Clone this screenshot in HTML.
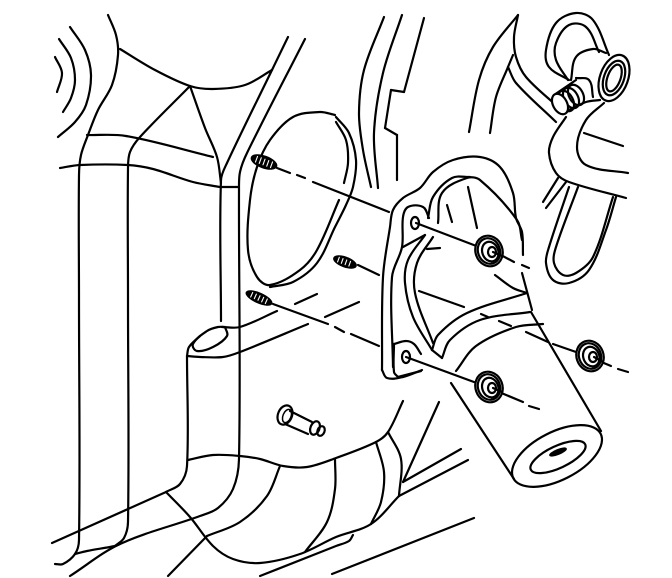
<!DOCTYPE html>
<html><head><meta charset="utf-8"><style>html,body{margin:0;padding:0;background:#fff}svg{display:block}
polyline,path,ellipse,line{fill:none;stroke:#000;stroke-width:2.2;stroke-linecap:round;stroke-linejoin:round}
.s{stroke-width:1.5}.k{fill:#000;stroke-width:1}.w{fill:#fff}.t{stroke:#fff;stroke-width:1.1}</style></head><body>
<svg id="d" width="672" height="578" viewBox="0 0 672 578" xmlns="http://www.w3.org/2000/svg">
<rect width="672" height="578" fill="#fff"/>
<polyline points="108,15 116,35 118,55 112,85 98,110 88,135 81,155 79,175 79,300 79,540 75,554 63,564 55,564"/>
<polyline points="70,27 85,50 91,75 86,105 75,122 58,137"/>
<polyline points="59,39 71,58 75,80 71,98 63,112"/>
<polyline points="55,57 62,73 57,92"/>
<polyline points="120,49 155,70 190,86 213,89 245,85 272,70"/>
<polyline points="190,86 140,137 130,152 128,168 128,300 128,522 124,538 115,546"/>
<polyline points="190,86 205,128 217,157 221,183"/>
<polyline points="87,135 126,136 213,157"/>
<polyline points="60,168 80,165 128,165 153,169 193,182 220,187"/>
<polyline points="220,187 238,187"/>
<polyline points="288,37 272,70 227,163 221,180 221,321"/>
<polyline points="305,39 247,153 240,172 239,190 239,459 233,489 218,508 200,516 120,544 70,576"/>
<polyline points="75,554 87,551 115,546 120,544"/>
<polyline points="222,327 240,327 277,311"/>
<polyline points="225,327 227,336 213,347 197,351 193,344 207,331 218,327 225,327"/>
<polyline points="200,336 189,347 187,356"/>
<polyline points="187,356 200,357 223,357 240,352 308,324"/>
<polyline points="187,356 187,466 180,484 166,492"/>
<polyline points="166,492 52,543"/>
<polyline points="188,460 213,455 240,456 260,459 283,466 307,467 336,458 376,442 388,432 403,401"/>
<polyline points="280,466 267,496 240,522 207,536"/>
<polyline points="207,536 168,576"/>
<polyline points="166,492 190,517 213,546 233,559 260,563 300,554 336,537 371,524 399,496"/>
<polyline points="335,459 335,489 327,522 305,552"/>
<polyline points="376,442 384,472 381,502 371,524"/>
<polyline points="388,432 401,459 399,496"/>
<polyline points="403,482 439,402"/>
<polyline points="403,482 461,449"/>
<polyline points="399,496 468,460"/>
<polyline points="260,576 336,546 349,541 353,535"/>
<polyline points="332,574 474,518"/>
<polyline points="335,115 320,112 293,117 270,140 257,167 250,200 248,250 257,277 270,285 300,270 317,250 339,200"/>
<polyline points="270,287 293,282 317,263 335,227 346,205 353,187 356,160 349,133 336,117"/>
<polyline points="336,122 346,140 348,163 344,183"/>
<polyline points="384,17 364,70 359,113 363,150 371,187"/>
<polyline points="402,15 383,73 374,133 378,188"/>
<polyline points="424,18 404,92"/><polyline points="404,92 391,90"/><polyline points="391,90 385,128"/><polyline points="385,128 397,135"/><polyline points="397,135 397,180"/>
<polyline points="518,15 493,47 479,80 469,132"/>
<polyline points="518,15 514,37 516,57 526,77 558,107"/>
<polyline points="513,55 508,67 496,97 490,133"/>
<polyline points="508,67 516,83 556,122"/>
<polyline points="566,117 553,137 549,153 556,173 569,182 626,198"/>
<polyline points="604,103 586,120 577,147 586,165 628,173"/>
<polyline points="584,133 623,146"/>
<polyline points="609,55 593,20 576,13 556,23 546,50 549,67 569,80"/>
<polyline points="599,52 586,27 569,25 556,43 556,60 568,80"/>
<polyline points="571,80 576,57 593,49 606,53"/>
<polyline points="576,78 589,80 593,97"/>
<polyline points="554,95 576,80"/>
<polyline points="563,113 586,102 600,100"/>
<ellipse class="w" cx="614" cy="78" rx="14" ry="24" transform="rotate(20 614 78)"/>
<ellipse cx="614" cy="78" rx="10" ry="18" transform="rotate(20 614 78)"/>
<ellipse cx="614" cy="78" rx="6.5" ry="14" transform="rotate(20 614 78)"/>
<ellipse cx="576" cy="95" rx="7" ry="11" transform="rotate(-28 576 95)"/>
<ellipse cx="571" cy="98" rx="7" ry="11" transform="rotate(-28 571 98)"/>
<ellipse cx="566" cy="101" rx="7" ry="11" transform="rotate(-28 566 101)"/>
<ellipse class="w" cx="560" cy="104" rx="7" ry="11" transform="rotate(-28 560 104)"/>
<polyline points="558,178 543,202"/>
<polyline points="566,182 546,208"/>
<polyline points="569,187 549,247 546,263 553,280 569,283 589,270 606,230 616,197"/>
<polyline points="578,187 556,247 554,263 563,275 576,273 593,257 613,197"/>
<polyline points="382,370 383,277 390,227 393,210 403,198 420,188 433,172 453,160 480,157 500,167 513,193 516,218 522,232 523,255"/>
<polyline points="382,370 387,378 403,377 422,370"/>
<polyline points="393,367 392,277 402,247 403,217 408,207 423,207 429,218"/>
<polyline points="438,223 442,193 467,178 480,180 517,220 522,240"/>
<polyline points="428,218 433,197 452,178 470,177"/>
<polyline points="447,205 452,222"/>
<polyline points="468,187 477,228"/>
<polyline points="403,247 425,235"/>
<polyline points="425,235 408,260 405,283 413,317 432,350"/>
<polyline points="433,237 417,263 415,293 433,343"/>
<polyline points="427,249 440,248"/>
<polyline points="419,291 464,307"/>
<polyline points="495,275 513,288 527,293"/>
<polyline points="522,273 532,310"/>
<polyline points="432,350 438,335 467,313 527,293"/>
<polyline points="432,350 442,358"/>
<polyline points="442,358 450,340 480,320 530,312"/>
<polyline points="456,371 476,346 516,327 543,324"/>
<polyline points="394,344 406,341 414,344 421,354"/>
<polyline points="394,344 394,372 398,377"/>
<polyline points="398,377 421,371"/>
<polyline points="531,312 601,431"/>
<polyline points="451,383 514,479"/>
<ellipse cx="557" cy="456" rx="49" ry="24" transform="rotate(-27 557 456)"/>
<ellipse cx="558" cy="457" rx="30" ry="11" transform="rotate(-25 558 457)"/>
<ellipse class="k" cx="558" cy="452" rx="9" ry="2.5" transform="rotate(-22 558 452)"/>
<ellipse cx="415" cy="223" rx="4" ry="6" stroke-width="2.4"/>
<ellipse cx="406" cy="357" rx="4" ry="6" stroke-width="2.4"/>
<line x1="277" y1="168" x2="290" y2="173"/><line x1="297" y1="175" x2="305" y2="178"/><line x1="313" y1="182" x2="389" y2="212"/>
<line x1="416" y1="223" x2="479" y2="247"/>
<line x1="499" y1="254" x2="514" y2="262"/><line x1="522" y1="265" x2="529" y2="268"/>
<line x1="358" y1="265" x2="379" y2="275"/>
<line x1="273" y1="304" x2="328" y2="324"/><line x1="335" y1="327" x2="344" y2="332"/><line x1="351" y1="334" x2="379" y2="346"/>
<line x1="295" y1="304" x2="317" y2="294"/><line x1="325" y1="317" x2="359" y2="302"/>
<line x1="406" y1="357" x2="474" y2="382"/>
<line x1="499" y1="392" x2="523" y2="402"/><line x1="529" y1="406" x2="539" y2="409"/>
<line x1="553" y1="344" x2="576" y2="352"/>
<line x1="599" y1="361" x2="611" y2="366"/><line x1="618" y1="369" x2="628" y2="372"/>
<line x1="526" y1="332" x2="548" y2="342"/><line x1="499" y1="321" x2="511" y2="326"/><line x1="481" y1="314" x2="488" y2="317"/>
<g transform="translate(489 251)"><ellipse class="w" rx="13.5" ry="15.5" stroke-width="2.6" transform="rotate(-20)"/><ellipse rx="11" ry="13" stroke-width="1.3" transform="rotate(-20)"/><ellipse cx="1" cy="1" rx="8" ry="10" stroke-width="1.3" transform="rotate(-20)"/><ellipse cx="3" cy="1" rx="4" ry="5" stroke-width="1.8"/></g>
<g transform="translate(489 387)"><ellipse class="w" rx="13.5" ry="15.5" stroke-width="2.6" transform="rotate(-20)"/><ellipse rx="11" ry="13" stroke-width="1.3" transform="rotate(-20)"/><ellipse cx="1" cy="1" rx="8" ry="10" stroke-width="1.3" transform="rotate(-20)"/><ellipse cx="3" cy="1" rx="4" ry="5" stroke-width="1.8"/></g>
<g transform="translate(590 356)"><ellipse class="w" rx="13.5" ry="15.5" stroke-width="2.6" transform="rotate(-20)"/><ellipse rx="11" ry="13" stroke-width="1.3" transform="rotate(-20)"/><ellipse cx="1" cy="1" rx="8" ry="10" stroke-width="1.3" transform="rotate(-20)"/><ellipse cx="3" cy="1" rx="4" ry="5" stroke-width="1.8"/></g>
<line x1="493" y1="252" x2="502" y2="256"/><line x1="493" y1="388" x2="502" y2="392"/><line x1="594" y1="357" x2="603" y2="362"/>
<g transform="translate(264 162) rotate(20)"><ellipse class="k" rx="13.5" ry="6"/><line class="t" x1="-8" y1="-3" x2="-8" y2="3"/><line class="t" x1="-4" y1="-3" x2="-4" y2="3"/><line class="t" x1="0" y1="-3" x2="0" y2="3"/><line class="t" x1="4" y1="-3" x2="4" y2="3"/><line class="t" x1="8" y1="-3" x2="8" y2="3"/></g>
<g transform="translate(345 262) rotate(20)"><ellipse class="k" rx="12" ry="5"/><line class="t" x1="-7" y1="-2.5" x2="-7" y2="2.5"/><line class="t" x1="-3" y1="-2.5" x2="-3" y2="2.5"/><line class="t" x1="1" y1="-2.5" x2="1" y2="2.5"/><line class="t" x1="5" y1="-2.5" x2="5" y2="2.5"/></g>
<g transform="translate(259 298) rotate(24)"><ellipse class="k" rx="14" ry="5"/><line class="t" x1="-8" y1="-2.5" x2="-8" y2="2.5"/><line class="t" x1="-4" y1="-2.5" x2="-4" y2="2.5"/><line class="t" x1="0" y1="-2.5" x2="0" y2="2.5"/><line class="t" x1="4" y1="-2.5" x2="4" y2="2.5"/><line class="t" x1="8" y1="-2.5" x2="8" y2="2.5"/></g>
<ellipse cx="285" cy="415" rx="7" ry="10" transform="rotate(22 285 415)"/>
<ellipse cx="287" cy="416" rx="4" ry="7" class="s" transform="rotate(22 287 416)"/>
<line x1="290" y1="411" x2="312" y2="422"/><line x1="285" y1="424" x2="308" y2="434"/>
<ellipse cx="315" cy="428" rx="4.5" ry="7" transform="rotate(22 315 428)"/>
<ellipse cx="321" cy="431" rx="3.5" ry="5" transform="rotate(22 321 431)"/>
</svg>
<script>
document.querySelectorAll('#d polyline').forEach(function(e){
var a=e.getAttribute('points').trim().split(/\s+/).map(function(s){return s.split(',').map(Number)});
if(a.length<3)return;
function L(u,v){return Math.hypot(u[0]-v[0],u[1]-v[1])||1}
function T(i){var p=a[i-1]||a[i],r=a[i+1]||a[i],l=L(p,r);return [(r[0]-p[0])/l,(r[1]-p[1])/l]}
var d='M'+a[0];
for(var i=0;i<a.length-1;i++){var q=a[i],r=a[i+1],s=L(q,r)/3,t1=T(i),t2=T(i+1);
d+='C'+(q[0]+t1[0]*s)+','+(q[1]+t1[1]*s)+' '+(r[0]-t2[0]*s)+','+(r[1]-t2[1]*s)+' '+r[0]+','+r[1];}
var n=document.createElementNS('http://www.w3.org/2000/svg','path');n.setAttribute('d',d);e.parentNode.replaceChild(n,e);});
</script>
</body></html>
